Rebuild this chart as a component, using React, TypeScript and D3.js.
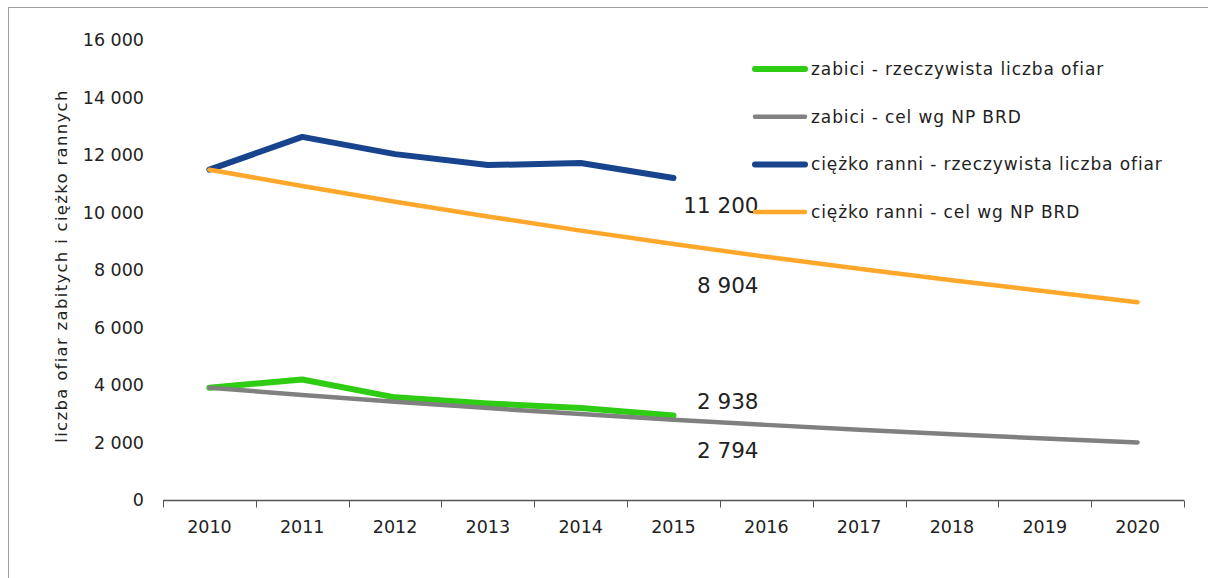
import React from 'react';
import * as d3 from 'd3';

// chart data
const years = ['2010', '2011', '2012', '2013', '2014', '2015', '2016', '2017', '2018', '2019', '2020'];
const killedActual = [3907, 4189, 3571, 3357, 3202, 2938];
const killedTarget = [3907, 3654, 3417, 3196, 2989, 2794, 2613, 2444, 2286, 2138, 2000];
const injuredActual = [11490, 12630, 12030, 11650, 11720, 11200];
const injuredTarget = [11490, 10919, 10376, 9860, 9370, 8904, 8461, 8041, 7641, 7261, 6880];
const yTicks = [0, 2000, 4000, 6000, 8000, 10000, 12000, 14000, 16000];
const seriesNames = [
  'zabici - rzeczywista liczba ofiar',
  'zabici - cel wg NP BRD',
  'ciężko ranni - rzeczywista liczba ofiar',
  'ciężko ranni - cel wg NP BRD',
];
const labelValues = [11200, 8904, 2938, 2794];
const yTitle = 'liczba ofiar zabitych i ciężko rannych';

const W = 1208, H = 578;
const margin = { left: 163, right: 24, top: 40, bottom: 77 };
const font = 'DejaVu Sans, Verdana, sans-serif';

function App() {
  const svgRef = React.useRef(null);

  React.useEffect(() => {
    const svg = d3.select(svgRef.current);
    svg.selectAll('*').remove();

    const x = d3.scaleBand().domain(years).range([margin.left, W - margin.right]).padding(0);
    const y = d3.scaleLinear().domain([0, 16000]).range([H - margin.bottom - 1, margin.top]);
    const cx = (i) => x(years[i]) + x.bandwidth() / 2;
    const fmt = (v) => d3.format(',')(v).replace(/,/g, ' ');

    // frame
    svg.append('rect')
      .attr('x', 8.5).attr('y', 7.5).attr('width', W).attr('height', H)
      .attr('fill', 'none').attr('stroke', '#a0a0a0').attr('stroke-width', 1);

    // y tick labels (no axis line)
    const yAxis = svg.append('g').attr('transform', `translate(${margin.left - 16},0)`)
      .call(d3.axisLeft(y).tickValues(yTicks).tickSize(0).tickFormat(fmt));
    yAxis.select('.domain').remove();
    yAxis.selectAll('text')
      .attr('font-family', font).attr('font-size', 17.5).attr('fill', '#222');

    // axis title
    svg.append('text')
      .attr('transform', `translate(67,266) rotate(-90)`)
      .attr('text-anchor', 'middle')
      .attr('font-family', font).attr('font-size', 16.5).attr('letter-spacing', 1.3)
      .attr('fill', '#222')
      .text(yTitle);

    // x axis
    const y0 = y(0) + 0.5;
    const xg = svg.append('g');
    xg.append('line')
      .attr('x1', margin.left).attr('x2', W - margin.right)
      .attr('y1', y0).attr('y2', y0).attr('stroke', '#555').attr('stroke-width', 1.5);
    const edges = years.map((d) => x(d)).concat([W - margin.right]);
    xg.selectAll('.tk').data(edges).enter().append('line')
      .attr('x1', (d) => Math.round(d) + 0.5).attr('x2', (d) => Math.round(d) + 0.5)
      .attr('y1', y0).attr('y2', y0 + 7).attr('stroke', '#555');
    xg.selectAll('.yl').data(years).enter().append('text')
      .attr('x', (d) => x(d) + x.bandwidth() / 2).attr('y', y0 + 32)
      .attr('text-anchor', 'middle')
      .attr('font-family', font).attr('font-size', 17.5).attr('fill', '#222')
      .text((d) => d);

    // lines
    const line = d3.line().x((d, i) => cx(i)).y((d) => y(d));
    const series = [
      { values: killedActual, color: '#2ecc12', width: 6 },
      { values: killedTarget, color: '#808080', width: 4.5 },
      { values: injuredActual, color: '#17448c', width: 6 },
      { values: injuredTarget, color: '#ffa72a', width: 4.5 },
    ];
    svg.selectAll('.series').data(series).enter().append('path')
      .attr('fill', 'none')
      .attr('stroke', (d) => d.color)
      .attr('stroke-width', (d) => d.width)
      .attr('stroke-linecap', 'round')
      .attr('stroke-linejoin', 'round')
      .attr('d', (d) => line(d.values));

    // data labels at 2015
    const labelDy = [27, 41, -14, 31];
    const i15 = years.indexOf('2015');
    svg.selectAll('.dl').data(labelValues).enter().append('text')
      .attr('x', cx(i15) + 85)
      .attr('y', (d, i) => y(d) + labelDy[i])
      .attr('dy', '0.35em')
      .attr('text-anchor', 'end')
      .attr('font-family', font).attr('font-size', 21.5).attr('fill', '#222')
      .text((d) => fmt(d));

    // legend
    const lg = svg.append('g').attr('transform', 'translate(753,69)');
    const items = lg.selectAll('.li').data(seriesNames).enter().append('g')
      .attr('transform', (d, i) => `translate(0,${i * 47.7})`);
    items.append('line')
      .attr('x1', 2).attr('x2', 52).attr('y1', 0).attr('y2', 0)
      .attr('stroke', (d, i) => series[i].color)
      .attr('stroke-width', (d, i) => series[i].width)
      .attr('stroke-linecap', 'round');
    items.append('text')
      .attr('x', 58).attr('dy', '0.35em')
      .attr('font-family', font).attr('font-size', 17).attr('letter-spacing', 0.9)
      .attr('fill', '#222')
      .text((d) => d);
  }, []);

  return (
    <svg ref={svgRef} width={W} height={H}
      style={{ position: 'absolute', left: 0, top: 0, background: '#fff' }} />
  );
}

export default App;
